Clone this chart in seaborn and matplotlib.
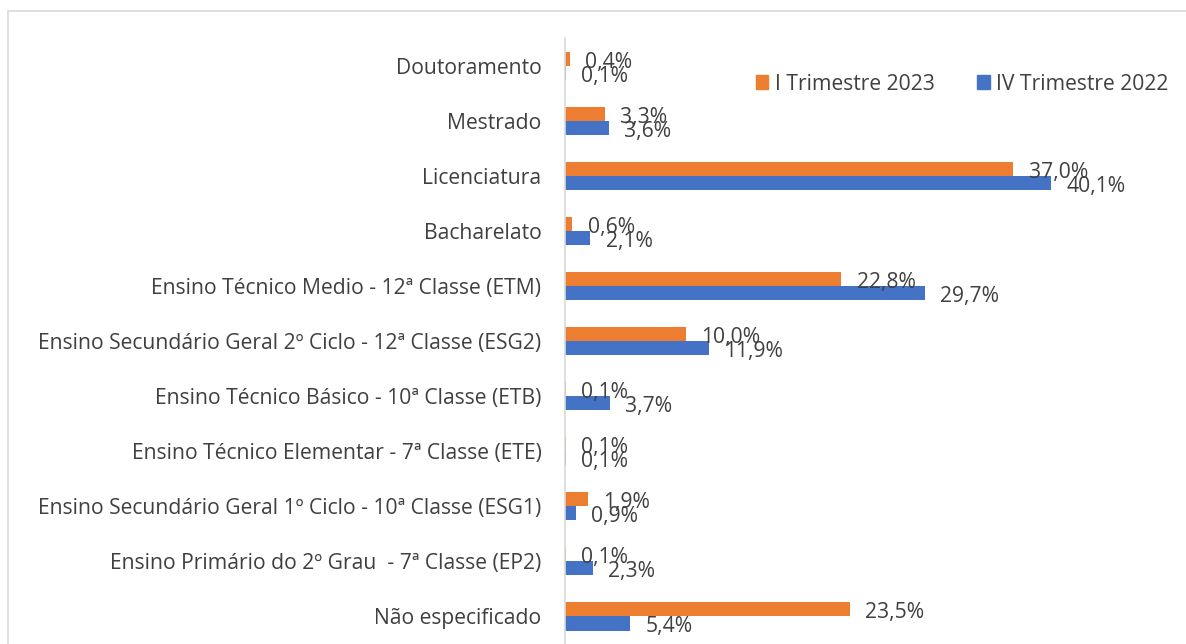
import matplotlib
matplotlib.use("Agg")
import matplotlib.pyplot as plt
from matplotlib.patches import Rectangle
import seaborn as sns
import pandas as pd

categories = [
    "Doutoramento",
    "Mestrado",
    "Licenciatura",
    "Bacharelato",
    "Ensino Técnico Medio - 12ª Classe (ETM)",
    "Ensino Secundário Geral 2º Ciclo - 12ª Classe (ESG2)",
    "Ensino Técnico Básico - 10ª Classe (ETB)",
    "Ensino Técnico Elementar - 7ª Classe (ETE)",
    "Ensino Secundário Geral 1º Ciclo - 10ª Classe (ESG1)",
    "Ensino Primário do 2º Grau  - 7ª Classe (EP2)",
    "Não especificado",
]
series_names = ["I Trimestre 2023", "IV Trimestre 2022"]
q1_2023 = [0.4, 3.3, 37.0, 0.6, 22.8, 10.0, 0.1, 0.1, 1.9, 0.1, 23.5]
q4_2022 = [0.1, 3.6, 40.1, 2.1, 29.7, 11.9, 3.7, 0.1, 0.9, 2.3, 5.4]
colors = ["#ED7D31", "#4472C4"]

df = pd.DataFrame({
    "cat": categories * 2,
    "serie": [series_names[0]] * len(categories) + [series_names[1]] * len(categories),
    "val": q1_2023 + q4_2022,
})

sns.set_theme(style="white")
plt.rcParams["font.family"] = ["Open Sans", "DejaVu Sans"]
text_color = "#404040"
fs = 15.2

W, H = 1186, 644
fig = plt.figure(figsize=(W / 100, H / 100), dpi=100)

ax_left, ax_right = 565 / W, 1140 / W
ax_top, ax_bottom = 1 - 38.5 / H, 0.0
ax = fig.add_axes([ax_left, ax_bottom, ax_right - ax_left, ax_top - ax_bottom])

sns.barplot(data=df, y="cat", x="val", hue="serie", hue_order=series_names,
            palette=colors, orient="h", width=0.51, gap=0, dodge=True,
            saturation=1, ax=ax, legend=False, linewidth=0)

px_per_unit = 12.12
xmax = (1140 - 565) / px_per_unit
ax.set_xlim(0, xmax)
ax.set_ylim(len(categories) - 0.5, -0.5)

for container in ax.containers:
    for bar in container:
        v = bar.get_width()
        yc = bar.get_y() + bar.get_height() / 2
        ax.annotate(f"{v:.1f}%".replace(".", ","), (v, yc), xytext=(11, -2.5),
                    textcoords="offset points", ha="left", va="center",
                    fontsize=fs, color=text_color, annotation_clip=False)

ax.set_xlabel("")
ax.set_ylabel("")
ax.set_xticks([])
ax.tick_params(axis="y", length=0, pad=17, labelsize=fs, labelcolor=text_color)
for s in ["top", "right", "bottom"]:
    ax.spines[s].set_visible(False)
ax.spines["left"].set_color("#D9D9D9")
ax.spines["left"].set_linewidth(1.2)

handles = [Rectangle((0, 0), 1, 1, color=c) for c in colors]
fig.legend(handles, series_names, loc="center", bbox_to_anchor=(962 / W, 1 - 84 / H),
           ncol=2, frameon=False, fontsize=fs, handlelength=0.6, handleheight=0.6,
           handletextpad=0.3, columnspacing=2.0, labelcolor=text_color)

fig.patches.append(Rectangle((8 / W, -0.05), 2, 1 - 11 / H + 0.05,
                             transform=fig.transFigure, fill=False,
                             edgecolor="#D9D9D9", linewidth=1.2))

fig.savefig("out.png", dpi=100)
